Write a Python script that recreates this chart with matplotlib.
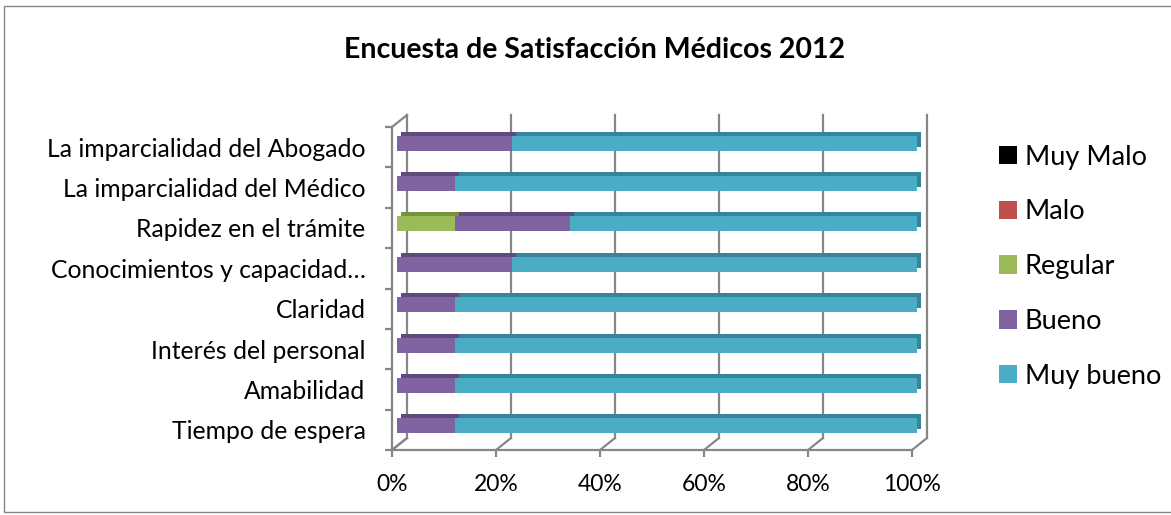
import matplotlib.pyplot as plt
import matplotlib.transforms as mtransforms
import numpy as np

plt.rcParams['font.family'] = ['Lato', 'DejaVu Sans']

# categories from bottom to top
categories = ['Tiempo de espera', 'Amabilidad', 'Interés del personal', 'Claridad',
              'Conocimientos y capacidad…', 'Rapidez en el trámite',
              'La imparcialidad del Médico', 'La imparcialidad del Abogado']
series = ['Muy Malo', 'Malo', 'Regular', 'Bueno', 'Muy bueno']
muy_malo = [0, 0, 0, 0, 0, 0, 0, 0]
malo = [0, 0, 0, 0, 0, 0, 0, 0]
regular = [0, 0, 0, 0, 0, 11.1, 0, 0]
bueno = [11.1, 11.1, 11.1, 11.1, 22.2, 22.2, 11.1, 22.2]
muy_bueno = [88.9, 88.9, 88.9, 88.9, 77.8, 66.7, 88.9, 77.8]
xticks = [0, 20, 40, 60, 80, 100]

colors = ['#000000', '#C0504D', '#9BBB59', '#8064A2', '#4BACC6']
tops = ['#000000', '#94403D', '#76923C', '#5F4B7B', '#35849A']
grid = '#868686'

W, H = 1171, 515
fig = plt.figure(figsize=(W / 100, H / 100), dpi=100)
# axes = front plane of the 3d box
ax = fig.add_axes([392 / W, 65 / H, 520 / W, 323 / H])
ax.set_xlim(0, 100)
ax.set_ylim(-0.5, len(categories) - 0.5)
for s in ax.spines.values():
    s.set_visible(False)

def shift(dx, dy):
    return ax.transData + mtransforms.ScaledTranslation(dx / 100, dy / 100, fig.dpi_scale_trans)

back = shift(15, 12)
y0, y1 = -0.5, len(categories) - 0.5

# back wall gridlines
for x in xticks:
    ax.plot([x, x], [y0, y1], color=grid, lw=1.6, transform=back, zorder=1, clip_on=False)
ax.plot([0, 100], [y0, y0], color=grid, lw=1.6, zorder=1, clip_on=False)
ax.plot([0, 0], [y0, y1], color=grid, lw=1.6, zorder=1, clip_on=False)
# diagonals from front to back
disp = ax.transData
for x, y in [(0, y0), (0, y1)] + [(x, y0) for x in xticks]:
    p = disp.transform((x, y))
    q = back.transform((x, y))
    fig.add_artist(plt.Line2D([p[0] / W, q[0] / W], [p[1] / H, q[1] / H],
                              color=grid, lw=1.6, transform=fig.transFigure, zorder=1))

# stacked 3d-ish bars
y = np.arange(len(categories))
data = [muy_malo, malo, regular, bueno, muy_bueno]
bh = 0.37
left = np.zeros(len(categories))
for vals, c, t, name in zip(data, colors, tops, series):
    vals = np.array(vals)
    ax.barh(y, vals, left=left, height=bh, color=t, transform=shift(9, 8), zorder=2, clip_on=False)
    ax.barh(y, vals, left=left, height=bh, color=c, transform=shift(5, 4), zorder=3,
            label=name, clip_on=False)
    left = left + vals

ax.set_yticks(y)
ax.set_yticklabels(categories, fontsize=17.8)
ax.set_yticks(np.arange(-0.5, len(categories), 1), minor=True)
ax.tick_params(axis='y', which='major', length=0, pad=19)
ax.tick_params(axis='y', which='minor', length=5, width=1.6, color=grid)
ax.set_xticks(xticks)
ax.set_xticklabels([f'{v}%' for v in xticks], fontsize=16.5)
ax.tick_params(axis='x', length=5, width=1.6, color=grid, pad=12)

handles, labels = ax.get_legend_handles_labels()
fig.legend(handles, labels, loc='upper left', bbox_to_anchor=(985 / W, 1 - 131 / H),
           frameon=False, fontsize=19.5, handlelength=0.67, handleheight=0.67,
           handletextpad=0.3, labelspacing=1.1, borderpad=0)

fig.text(595 / W, 1 - 50 / H, 'Encuesta de Satisfacción Médicos 2012', ha='center', va='center',
         fontsize=20.5, fontweight='bold')

fig.add_artist(plt.Rectangle((4 / W, 3 / H), 1.2, 1 - 9 / H, fill=False, edgecolor=grid,
                             lw=1, transform=fig.transFigure))

fig.savefig('out.png', dpi=100)
